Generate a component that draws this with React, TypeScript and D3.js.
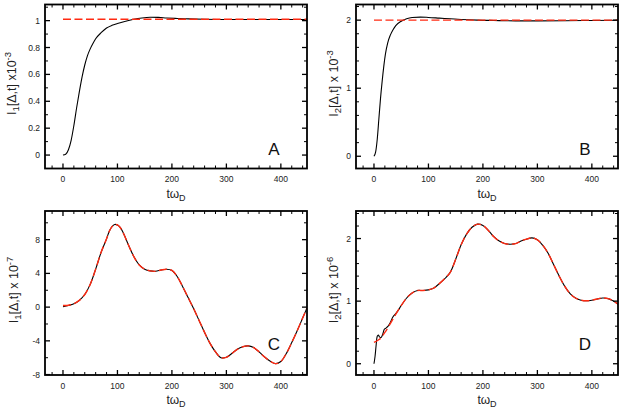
import React from "react";
import * as d3 from "d3";

// panel A: I1 response, units of 1e-3
const aTime = [0, 5, 10, 15, 20, 25, 30, 35, 40, 45, 50, 55, 60, 70, 80, 90, 100, 115, 130, 145, 160, 175, 190, 210, 230, 260, 300, 350, 400, 448];
const aSignal = [0, 0.006, 0.04, 0.11, 0.22, 0.35, 0.47, 0.58, 0.67, 0.74, 0.79, 0.83, 0.865, 0.91, 0.945, 0.965, 0.978, 0.995, 1.01, 1.02, 1.025, 1.024, 1.02, 1.016, 1.013, 1.01, 1.008, 1.008, 1.008, 1.008];
const aFitTime = [0, 448];
const aFit = [1.01, 1.01];

// panel B: I2 response, units of 1e-3
const bTime = [0, 3, 6, 9, 12, 15, 18, 21, 25, 30, 35, 40, 50, 60, 70, 85, 100, 120, 140, 160, 190, 220, 260, 300, 350, 400, 448];
const bSignal = [0, 0.06, 0.25, 0.55, 0.85, 1.1, 1.32, 1.5, 1.66, 1.78, 1.86, 1.92, 1.985, 2.02, 2.038, 2.045, 2.04, 2.03, 2.02, 2.01, 2.0, 1.995, 1.99, 1.99, 1.992, 1.995, 1.998];
const bFitTime = [0, 448];
const bFit = [2.0, 2.0];

// panel C: I1 oscillation, units of 1e-7
const cTime = [0, 10, 20, 30, 40, 50, 60, 70, 80, 85, 90, 95, 100, 105, 110, 120, 130, 140, 150, 160, 170, 180, 190, 200, 210, 220, 230, 240, 250, 260, 270, 280, 290, 300, 310, 320, 330, 340, 350, 360, 370, 380, 390, 400, 410, 420, 430, 440, 448];
const cSignal = [0.05, 0.2, 0.4, 0.8, 1.5, 2.7, 4.5, 6.5, 8.1, 9.0, 9.55, 9.8, 9.75, 9.45, 8.9, 7.4, 6.0, 5.0, 4.5, 4.3, 4.25, 4.4, 4.5, 4.35, 3.6, 2.4, 1.1, -0.2, -1.6, -3.0, -4.3, -5.3, -6.0, -5.95, -5.5, -5.0, -4.7, -4.6, -4.8, -5.3, -5.9, -6.4, -6.7, -6.45, -5.5, -4.2, -2.8, -1.3, -0.1];
const cFit = [0.2, 0.22, 0.4, 0.8, 1.5, 2.7, 4.5, 6.5, 8.1, 9.0, 9.55, 9.8, 9.75, 9.45, 8.9, 7.4, 6.0, 5.0, 4.5, 4.3, 4.25, 4.4, 4.5, 4.35, 3.6, 2.4, 1.1, -0.2, -1.6, -3.0, -4.3, -5.3, -6.0, -5.95, -5.5, -5.0, -4.7, -4.6, -4.8, -5.3, -5.9, -6.4, -6.7, -6.45, -5.5, -4.2, -2.8, -1.3, -0.1];

// panel D: I2 oscillation, units of 1e-6
const dTime = [0, 10, 20, 30, 40, 50, 60, 70, 80, 90, 100, 110, 120, 130, 140, 150, 160, 170, 180, 190, 200, 210, 220, 230, 240, 250, 260, 270, 280, 290, 300, 310, 320, 330, 340, 350, 360, 370, 380, 390, 400, 410, 420, 430, 440, 448];
const dFit = [0.34, 0.39, 0.5, 0.64, 0.79, 0.93, 1.05, 1.13, 1.17, 1.17, 1.18, 1.21, 1.28, 1.36, 1.46, 1.67, 1.9, 2.07, 2.18, 2.23, 2.21, 2.13, 2.03, 1.96, 1.92, 1.91, 1.92, 1.96, 1.99, 2.01, 1.98, 1.89, 1.76, 1.58, 1.4, 1.24, 1.12, 1.05, 1.015, 1.005, 1.015, 1.035, 1.05, 1.04, 1.0, 0.95];
const dEarlyTime = [0, 2, 4, 6, 8, 10, 13, 16, 19, 22, 26, 30, 35, 40, 45];
const dEarly = [0, 0.12, 0.3, 0.44, 0.46, 0.43, 0.42, 0.47, 0.55, 0.57, 0.6, 0.66, 0.75, 0.8, 0.86];

const xMajor = [0, 100, 200, 300, 400];
const aTicks = [0, 0.2, 0.4, 0.6, 0.8, 1];
const bTicks = [0, 1, 2];
const cTicks = [-8, -4, 0, 4, 8];
const dTicks = [0, 1, 2];

const W = 262;
const H = 164;
const FONT = "'Liberation Sans', Arial, Helvetica, sans-serif";
const RED = "#ff2a12";

type Pt = [number, number];
const zip = (t: number[], v: number[]): Pt[] => t.map((x, i) => [x, v[i]]);

interface IPanelProps {
  left: number;
  top: number;
  yDomain: [number, number];
  yTicks: number[];
  yStep: number;
  signal: Pt[];
  fit: Pt[];
  smooth: boolean;
  sub: string;
  power: string;
  xSep: string;
  letter: string;
  labelX: number;
  letterDy: number;
  id: string;
}

function Panel(props: IPanelProps) {
  const { left, top, yDomain, yTicks, yStep, signal, fit, smooth, sub, power, xSep, letter, labelX, letterDy, id } = props;
  const x = d3.scaleLinear().domain([-33, 448]).range([0, W]);
  const y = d3.scaleLinear().domain(yDomain).range([H, 0]);
  const line = d3
    .line<Pt>()
    .x((d) => x(d[0]))
    .y((d) => y(d[1]))
    .curve(smooth ? d3.curveCatmullRom.alpha(0.5) : d3.curveMonotoneX);

  const xMinor = d3.range(-20, 448, 20).filter((v) => v % 100 !== 0);
  const yMinor = d3
    .range(Math.ceil(yDomain[0] / yStep) * yStep, yDomain[1], yStep)
    .map((v) => +v.toFixed(4))
    .filter((v) => !yTicks.some((t) => Math.abs(t - v) < 1e-6));

  const major = 5;
  const minor = 3;

  return (
    <g transform={`translate(${left},${top})`}>
      <defs>
        <clipPath id={id}>
          <rect width={W} height={H} />
        </clipPath>
      </defs>
      <g clipPath={`url(#${id})`}>
        <path d={line(signal) ?? ""} fill="none" stroke="#000" strokeWidth={1.1} />
        <path d={line(fit) ?? ""} fill="none" stroke={RED} strokeWidth={1.4} strokeDasharray="8 3.5" />
      </g>
      {/* ticks on all four sides, pointing in */}
      {xMajor.map((v) => (
        <g key={`xm${v}`} stroke="#000" strokeWidth={1.3}>
          <line x1={x(v)} x2={x(v)} y1={H} y2={H - major} />
          <line x1={x(v)} x2={x(v)} y1={0} y2={major} />
        </g>
      ))}
      {xMinor.map((v) => (
        <g key={`xn${v}`} stroke="#000" strokeWidth={1}>
          <line x1={x(v)} x2={x(v)} y1={H} y2={H - minor} />
          <line x1={x(v)} x2={x(v)} y1={0} y2={minor} />
        </g>
      ))}
      {yTicks.map((v) => (
        <g key={`ym${v}`} stroke="#000" strokeWidth={1.3}>
          <line x1={0} x2={major} y1={y(v)} y2={y(v)} />
          <line x1={W} x2={W - major} y1={y(v)} y2={y(v)} />
        </g>
      ))}
      {yMinor.map((v) => (
        <g key={`yn${v}`} stroke="#000" strokeWidth={1}>
          <line x1={0} x2={minor} y1={y(v)} y2={y(v)} />
          <line x1={W} x2={W - minor} y1={y(v)} y2={y(v)} />
        </g>
      ))}
      <rect width={W} height={H} fill="none" stroke="#000" strokeWidth={1.8} />
      <g fontFamily={FONT} fontSize={8.5} fill="#222">
        {xMajor.map((v) => (
          <text key={`xl${v}`} x={x(v)} y={H + 13.5} textAnchor="middle">
            {v}
          </text>
        ))}
        {yTicks.map((v) => (
          <text key={`yl${v}`} x={-5} y={y(v) + 3} textAnchor="end">
            {String(v)}
          </text>
        ))}
      </g>
      <text x={W / 2} y={H + 29} textAnchor="middle" fontFamily={FONT} fontSize={12} fill="#222">
        tω<tspan dy={3} fontSize={9}>D</tspan>
      </text>
      <text
        transform={`translate(${labelX},${H / 2 - 3}) rotate(-90)`}
        textAnchor="middle"
        fontFamily={FONT}
        fontSize={12.5}
        fill="#222"
      >
        I<tspan dy={3} fontSize={9.5}>{sub}</tspan>
        <tspan dy={-3}>[Δ,t]{xSep}10</tspan>
        <tspan dy={-5} fontSize={9.5}>{power}</tspan>
      </text>
      <text x={W - 33} y={H - letterDy} textAnchor="middle" fontFamily={FONT} fontSize={17} fill="#111">
        {letter}
      </text>
    </g>
  );
}

export default function App() {
  const dSignal = zip(dEarlyTime, dEarly).concat(zip(dTime, dFit).filter((d) => d[0] >= 50));
  return (
    <svg width={623} height={415} style={{ position: "absolute", left: 0, top: 0, background: "#fff" }}>
      <Panel
        id="clipA"
        left={45}
        top={4.5}
        yDomain={[-0.1, 1.12]}
        yTicks={aTicks}
        yStep={0.1}
        signal={zip(aTime, aSignal)}
        fit={zip(aFitTime, aFit)}
        smooth={false}
        sub="1"
        power="-3"
        xSep=" x"
        letter="A"
        labelX={-29}
        letterDy={14}
      />
      <Panel
        id="clipB"
        left={356}
        top={4.5}
        yDomain={[-0.18, 2.23]}
        yTicks={bTicks}
        yStep={0.2}
        signal={zip(bTime, bSignal)}
        fit={zip(bFitTime, bFit)}
        smooth={false}
        sub="2"
        power="-3"
        xSep=" x "
        letter="B"
        labelX={-18}
        letterDy={14}
      />
      <Panel
        id="clipC"
        left={45}
        top={211}
        yDomain={[-8.05, 11.4]}
        yTicks={cTicks}
        yStep={2}
        signal={zip(cTime, cSignal)}
        fit={zip(cTime, cFit)}
        smooth={true}
        sub="1"
        power="-7"
        xSep=" x "
        letter="C"
        labelX={-27}
        letterDy={25}
      />
      <Panel
        id="clipD"
        left={356}
        top={211}
        yDomain={[-0.18, 2.44]}
        yTicks={dTicks}
        yStep={0.2}
        signal={dSignal}
        fit={zip(dTime, dFit)}
        smooth={true}
        sub="2"
        power="-6"
        xSep=" x "
        letter="D"
        labelX={-18}
        letterDy={25}
      />
    </svg>
  );
}
